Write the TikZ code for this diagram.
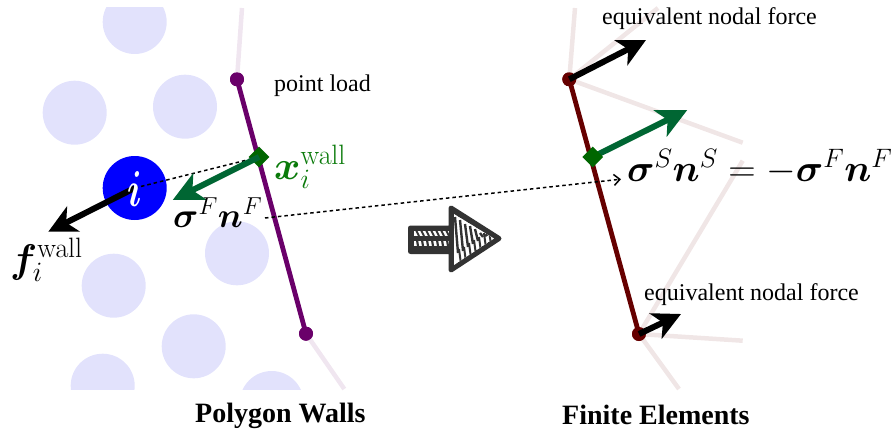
\RequirePackage{fix-cm}
\documentclass[tikz,border=0pt]{standalone}
\usepackage{amsmath,bm,graphicx}
\usepackage[no-math]{fontspec}
\setmainfont{Liberation Serif}
\usetikzlibrary{arrows.meta,shapes.geometric}
\definecolor{partic}{HTML}{E2E2FC}
\definecolor{wallp}{HTML}{6A006A}
\definecolor{wallfade}{HTML}{F0E6F0}
\definecolor{femr}{HTML}{660000}
\definecolor{femfade}{HTML}{F0E6E6}
\definecolor{greenarr}{HTML}{006633}
\definecolor{greendia}{HTML}{006600}
\definecolor{greentxt}{HTML}{0A7A0A}
\definecolor{sketch}{HTML}{333333}
\tikzset{
  x=1pt,y=-1pt,
  particle/.style={circle,fill=partic,minimum size=64pt,inner sep=0pt},
  wallnode/.style={circle,fill=wallp,minimum size=14pt,inner sep=0pt},
  femnode/.style={circle,fill=femr,minimum size=14pt,inner sep=0pt},
  dia/.style={diamond,fill=greendia,minimum size=21pt,inner sep=0pt},
  fade/.style={line width=4.5pt},
  bar/.style={line width=4.8pt},
  force/.style={line width=6pt,black,-{Stealth[length=28pt,width=28pt,inset=8pt]}},
  gforce/.style={line width=6pt,greenarr,-{Stealth[length=30pt,width=29pt,inset=8pt]}},
  dots/.style={line width=1.5pt,dash pattern=on 3.5pt off 3pt},
  txt/.style={inner sep=0pt,font=\fontsize{24}{28}\selectfont},
  ttl/.style={inner sep=0pt,font=\fontsize{28}{32}\selectfont\bfseries},
  mth/.style={inner sep=0pt,font=\fontsize{38}{44}\selectfont},
  mthbig/.style={inner sep=0pt,font=\fontsize{40}{46}\selectfont},
  mthsmall/.style={inner sep=0pt,font=\fontsize{35}{40}\selectfont},
}
\begin{document}
\begin{tikzpicture}
\useasboundingbox (0,0) rectangle (896,433);
% particles
\begin{scope}
\clip (0,8) rectangle (896,389);
\node[particle] (p1) at (134.7,22) {};
\node[particle] (p2) at (74.7,112.7) {};
\node[particle] (p3) at (185,106.7) {};
\node[particle] (p4) at (237,253.3) {};
\node[particle] (p5) at (113.7,285.7) {};
\node[particle] (p6) at (193.7,346.3) {};
\node[particle] (p7) at (102.7,385.7) {};
\node[particle] (p8) at (271.7,403) {};
\end{scope}
% coordinates
\coordinate (wt) at (242,8);
\coordinate (wb) at (344.3,389);
\coordinate (wd) at (259,157);
\coordinate (garrL) at (172.7,200);
\coordinate (farrL) at (48.3,231.7);
\coordinate (dot2a) at (265,218);
\coordinate (dot2b) at (618,179.5);
\coordinate (f1) at (575,8);
\coordinate (f2) at (658,8);
\coordinate (f3) at (742.7,142.7);
\coordinate (f4) at (742.7,160.7);
\coordinate (f5) at (742.7,340.7);
\coordinate (f6) at (679,389);
\coordinate (ftop) at (646,40);
\coordinate (fbot) at (681,314);
\coordinate (garrR) at (687.3,110);
\coordinate (d2c) at (592.7,157);
% left wall
\node[wallnode] (w1) at (237,79.3) {};
\node[wallnode] (w2) at (306,333.7) {};
\node[circle,fill=blue,minimum size=64pt,inner sep=0pt] (pi) at (134.7,188) {};
\draw[wallfade,fade] (wt) -- (w1.center);
\draw[wallfade,fade] (w2.center) -- (wb);
\draw[wallp,bar] (w1.center) -- (w2.center);
\node[wallnode] at (w1) {};
\node[wallnode] at (w2) {};
\node[dia] (d1) at (wd) {};
\draw[force] (pi.center) -- (farrL);
\draw[dots] (pi.center) -- (d1.center);
\draw[gforce] (d1.center) -- (garrL);
\node[inner sep=0pt,white,font=\fontsize{48}{54}\selectfont] (ilab) at (135,189) {\scalebox{0.75}[1.05]{$\bm{i}$}};
% right mesh
\node[femnode] (n1) at (569.3,79.3) {};
\node[femnode] (n2) at (639,334) {};
\draw[femfade,fade] (f1) -- (n1.center);
\draw[femfade,fade] (f2) -- (n1.center);
\draw[femfade,fade] (f3) -- (n1.center);
\draw[femfade,fade] (f4) -- (n2.center);
\draw[femfade,fade] (f5) -- (n2.center);
\draw[femfade,fade] (f6) -- (n2.center);
\draw[femr,bar] (n1.center) -- (n2.center);
\node[femnode] at (n1) {};
\node[femnode] at (n2) {};
\draw[gforce] (d2c) -- (garrR);
\node[dia] (d2) at (d2c) {};
\draw[force] (n1.center) -- (ftop);
\draw[force] (n2.center) -- (fbot);
% long dotted
\draw[dots] (dot2a) -- (dot2b);
\draw[line width=1.5pt,-{Straight Barb[length=6pt,width=11pt]}] (dot2b) -- ++(3,-0.3) coordinate (dot2c);
% sketch arrow
\draw[sketch,fill=sketch,line width=5pt,line join=round]
  (410.5,228) -- (451,228) -- (451,208) -- (499,238.5) -- (451,270) -- (451,251.5) -- (410.5,251.5) -- cycle;
\fill[white] (414,231) rectangle (449,235.5);
\fill[white] (414,241) rectangle (449,245.5);
\foreach \x in {416,421,...,446} {
  \draw[sketch,line width=2pt] (\x,230) -- (\x+3,236);
  \draw[sketch,line width=2.2pt] (\x+1,240) -- (\x+2,246);
}
\begin{scope}
\clip (454,214) -- (494,238.5) -- (454,265) -- cycle;
\fill[white] (454,214) -- (494,238.5) -- (454,265) -- cycle;
\foreach \x/\t/\b in {455/211/262,460/214/260,465/218/256,470/220/253,475/223/250,480/227/246,485/230/243} {
  \draw[sketch,line width=2.4pt] (\x,\t+6) -- (\x+3,\b-9);
  \draw[sketch,line width=2pt] (\x+4,\b-13) -- (\x+6,\b+2);
}
\end{scope}
% labels
\node[txt,anchor=base west] (lp) at (274,92) {point load};
\node[txt,anchor=base west] (le1) at (602,25) {equivalent nodal force};
\node[txt,anchor=base west] (le2) at (644,300) {equivalent nodal force};
\node[ttl,anchor=base west] (t1) at (195,422) {Polygon Walls};
\node[ttl,anchor=base west] (t2) at (562,424) {Finite Elements};
\node[mthbig,anchor=base west,text=greentxt] (lx) at (274,179) {$\bm{x}_i^{\mathrm{wall}}$};
\node[mthsmall,anchor=base west] (ls) at (173,227) {$\bm{\sigma}^F\bm{n}^F$};
\node[mthbig,anchor=base west] (lf) at (10,272) {$\bm{f}_i^{\mathrm{wall}}$};
\node[mth,anchor=base west] (leq) at (627,181) {$\bm{\sigma}^S\bm{n}^S=-\bm{\sigma}^F\bm{n}^F$};
\end{tikzpicture}
\end{document}
